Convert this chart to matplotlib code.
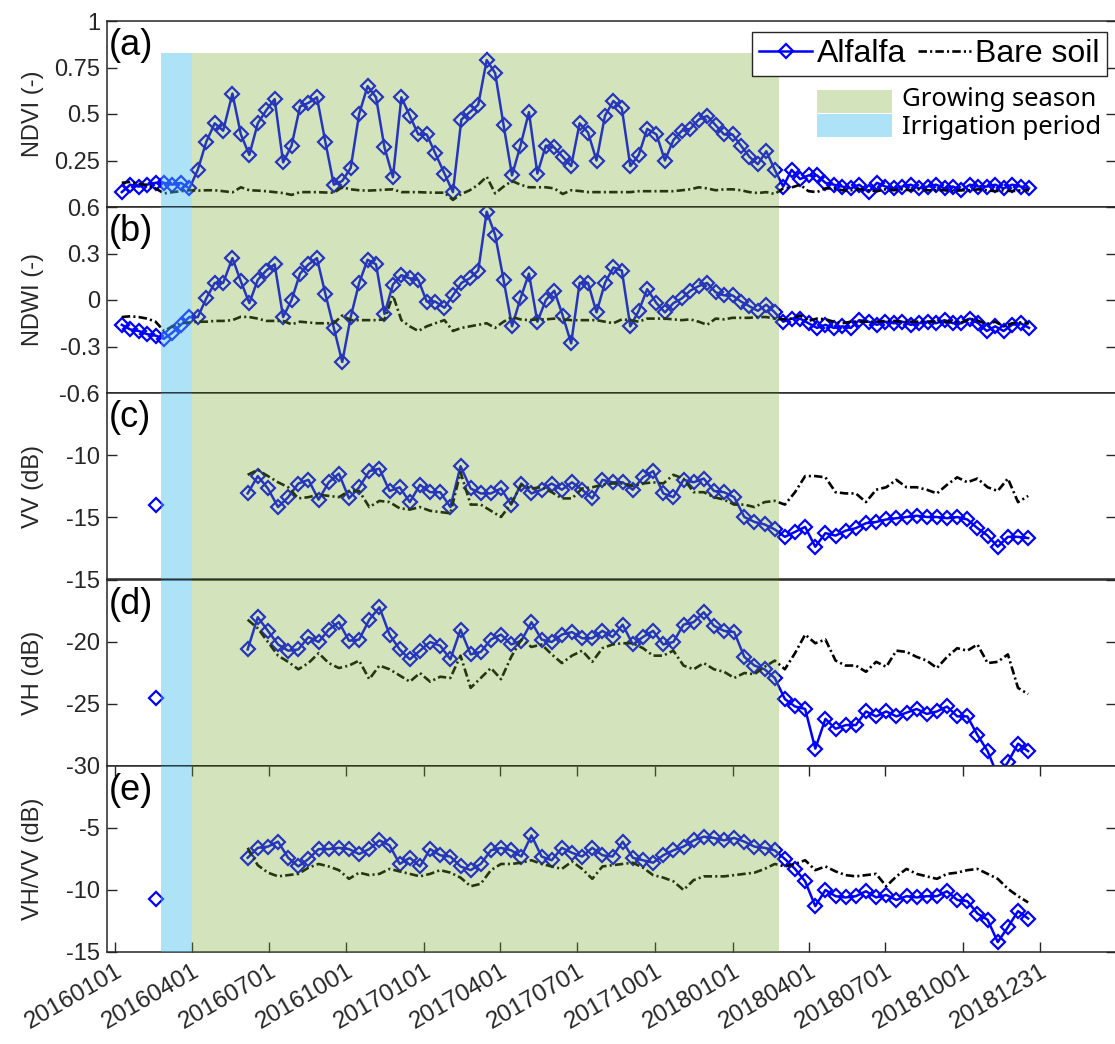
import datetime as dt
import matplotlib
matplotlib.use("Agg")
import matplotlib.pyplot as plt
from matplotlib.patches import Rectangle

plt.rcParams['font.family'] = ['Liberation Sans', 'DejaVu Sans']

T0 = dt.datetime(2016, 1, 1)

# optical (10-day) acquisitions, days after 2016-01-01
opt_day = [8, 18, 28, 38, 48, 58, 68, 78, 88, 98,
           108, 118, 128, 139, 149, 159, 169, 179, 189, 199,
           209, 219, 229, 239, 249, 259, 269, 279, 289, 299,
           309, 319, 329, 339, 349, 359, 369, 379, 390, 400,
           410, 420, 430, 440, 450, 460, 470, 480, 490, 500,
           510, 520, 530, 540, 550, 560, 570, 580, 590, 600,
           610, 620, 630, 641, 651, 661, 671, 681, 691, 701,
           711, 721, 731, 741, 751, 761, 771, 781, 791, 801,
           811, 821, 831, 841, 851, 861, 871, 881, 892, 902,
           912, 922, 932, 942, 952, 962, 972, 982, 992, 1002,
           1012, 1022, 1032, 1042, 1052, 1062, 1072, 1082]

ndvi_alfalfa = [0.08, 0.12, 0.11, 0.12, 0.13, 0.13, 0.12, 0.13, 0.10, 0.20,
                0.35, 0.45, 0.41, 0.61, 0.39, 0.28, 0.45, 0.52, 0.58, 0.24,
                0.33, 0.54, 0.56, 0.59, 0.35, 0.12, 0.14, 0.21, 0.50, 0.65,
                0.59, 0.32, 0.16, 0.59, 0.49, 0.39, 0.39, 0.29, 0.18, 0.08,
                0.47, 0.51, 0.55, 0.79, 0.72, 0.44, 0.17, 0.33, 0.51, 0.18,
                0.33, 0.32, 0.27, 0.22, 0.45, 0.40, 0.25, 0.49, 0.57, 0.53,
                0.22, 0.28, 0.42, 0.39, 0.25, 0.36, 0.41, 0.42, 0.47, 0.49,
                0.44, 0.39, 0.39, 0.33, 0.27, 0.23, 0.30, 0.20, 0.11, 0.20,
                0.15, 0.17, 0.17, 0.13, 0.12, 0.11, 0.10, 0.12, 0.08, 0.13,
                0.11, 0.10, 0.11, 0.12, 0.10, 0.11, 0.12, 0.10, 0.11, 0.09,
                0.12, 0.11, 0.11, 0.12, 0.10, 0.12, 0.11, 0.10]

ndvi_bare = [0.13, 0.135, 0.125, 0.118, 0.10, 0.073, 0.08, 0.085, 0.09, 0.088,
             0.09, 0.09, 0.085, 0.079, 0.106, 0.09, 0.088, 0.085, 0.08, 0.075,
             0.065, 0.08, 0.08, 0.08, 0.078, 0.077, 0.106, 0.095, 0.09, 0.088,
             0.09, 0.093, 0.095, 0.08, 0.08, 0.08, 0.078, 0.077, 0.077, 0.038,
             0.07, 0.09, 0.12, 0.163, 0.073, 0.11, 0.14, 0.12, 0.106, 0.106,
             0.106, 0.10, 0.07, 0.09, 0.086, 0.08, 0.08, 0.08, 0.08, 0.08,
             0.08, 0.085, 0.085, 0.085, 0.085, 0.085, 0.09, 0.095, 0.106, 0.10,
             0.09, 0.095, 0.095, 0.09, 0.08, 0.075, 0.08, 0.07, 0.10, 0.105,
             0.12, 0.085, 0.08, 0.10, 0.10, 0.09, 0.09, 0.095, 0.09, 0.085,
             0.095, 0.09, 0.095, 0.09, 0.095, 0.09, 0.09, 0.09, 0.085, 0.09,
             0.09, 0.095, 0.09, 0.085, 0.09, 0.085, 0.09, 0.09]

ndwi_alfalfa = [-0.16, -0.19, -0.20, -0.22, -0.23, -0.25, -0.21, -0.16, -0.11, -0.11,
                0.01, 0.11, 0.11, 0.27, 0.12, -0.02, 0.13, 0.19, 0.23, -0.11,
                0.00, 0.17, 0.23, 0.27, 0.04, -0.18, -0.40, -0.11, 0.11, 0.26,
                0.23, -0.09, 0.10, 0.16, 0.14, 0.13, -0.01, -0.01, -0.05, 0.03,
                0.11, 0.14, 0.19, 0.57, 0.42, 0.13, -0.17, 0.01, 0.17, -0.14,
                0.00, 0.06, -0.10, -0.28, 0.11, 0.11, -0.08, 0.11, 0.21, 0.19,
                -0.17, -0.07, 0.07, -0.02, -0.08, -0.02, 0.01, 0.06, 0.09, 0.11,
                0.05, 0.03, 0.03, -0.01, -0.04, -0.07, -0.03, -0.08, -0.14, -0.12,
                -0.12, -0.15, -0.18, -0.16, -0.18, -0.17, -0.18, -0.13, -0.14, -0.16,
                -0.14, -0.15, -0.14, -0.16, -0.15, -0.14, -0.15, -0.13, -0.15, -0.15,
                -0.12, -0.15, -0.20, -0.17, -0.20, -0.16, -0.15, -0.18]

ndwi_bare = [-0.11, -0.105, -0.11, -0.12, -0.14, -0.20, -0.17, -0.15, -0.145, -0.14,
             -0.14, -0.135, -0.135, -0.13, -0.108, -0.11, -0.12, -0.135, -0.135, -0.135,
             -0.157, -0.14, -0.145, -0.15, -0.15, -0.15, -0.10, -0.13, -0.13, -0.13,
             -0.13, -0.125, 0.03, -0.13, -0.17, -0.20, -0.17, -0.15, -0.13, -0.20,
             -0.18, -0.17, -0.16, -0.15, -0.18, -0.14, -0.11, -0.125, -0.13, -0.125,
             -0.125, -0.12, -0.125, -0.13, -0.13, -0.13, -0.13, -0.14, -0.15, -0.125,
             -0.13, -0.14, -0.12, -0.12, -0.12, -0.125, -0.13, -0.125, -0.14, -0.16,
             -0.12, -0.125, -0.115, -0.115, -0.115, -0.11, -0.11, -0.12, -0.125, -0.12,
             -0.10, -0.135, -0.12, -0.125, -0.14, -0.15, -0.14, -0.14, -0.14, -0.14,
             -0.135, -0.135, -0.14, -0.14, -0.14, -0.14, -0.14, -0.14, -0.14, -0.145,
             -0.12, -0.135, -0.155, -0.14, -0.17, -0.15, -0.145, -0.15]

# Sentinel-1 (12-day) acquisitions, days after 2016-01-01
sar_day = [157, 169, 181, 193, 205, 217, 229, 241, 253, 265,
           277, 289, 301, 313, 325, 337, 349, 361, 373, 385,
           397, 409, 421, 433, 445, 457, 469, 481, 493, 505,
           517, 529, 541, 553, 565, 577, 589, 601, 613, 625,
           637, 649, 661, 673, 685, 697, 709, 721, 733, 745,
           757, 769, 781, 793, 805, 817, 829, 841, 853, 865,
           877, 889, 901, 913, 925, 937, 949, 961, 973, 985,
           997, 1009, 1021, 1033, 1045, 1057, 1069, 1081]

# single early alfalfa scene (18 Feb 2016)
sar_day_early = 48
vv_alfalfa_early = -14.0
vh_alfalfa_early = -24.5
ratio_alfalfa_early = -10.7

vv_alfalfa = [-13.1, -11.7, -12.7, -14.2, -13.4, -12.3, -12.0, -13.6, -12.2, -11.5,
              -13.5, -12.6, -11.3, -11.1, -12.9, -12.6, -13.8, -12.4, -13.0, -13.0,
              -14.2, -10.9, -12.7, -13.1, -13.1, -12.7, -14.0, -12.3, -13.1, -12.8,
              -12.3, -12.8, -12.2, -12.8, -13.5, -12.0, -12.2, -12.2, -12.8, -11.8,
              -11.3, -13.1, -13.4, -12.0, -12.2, -11.9, -12.9, -13.0, -13.4, -15.0,
              -15.4, -15.6, -16.0, -16.6, -16.2, -15.8, -17.4, -16.3, -16.5, -16.1,
              -15.9, -15.5, -15.4, -15.2, -15.1, -15.0, -14.9, -15.0, -15.0, -15.1,
              -15.0, -15.2, -15.9, -16.5, -17.4, -16.6, -16.6, -16.7]

vv_bare = [-11.6, -11.2, -11.7, -12.2, -12.6, -13.5, -13.4, -13.2, -13.3, -13.4,
           -12.9, -12.9, -14.2, -13.7, -13.8, -14.3, -14.4, -14.2, -14.5, -14.6,
           -14.7, -11.4, -14.0, -14.0, -14.5, -15.0, -13.9, -12.4, -12.7, -12.6,
           -13.0, -13.5, -13.5, -12.7, -12.6, -12.4, -12.3, -12.3, -12.5, -12.3,
           -12.2, -12.3, -11.6, -11.9, -13.0, -13.0, -13.4, -13.6, -14.0, -14.0,
           -14.2, -13.8, -13.7, -14.0, -13.0, -11.7, -11.7, -11.8, -13.0, -13.1,
           -13.1, -13.8, -12.8, -12.6, -12.0, -12.6, -12.6, -12.8, -13.1, -12.4,
           -11.8, -12.2, -11.9, -12.6, -12.9, -11.9, -13.8, -13.3]

vh_alfalfa = [-20.6, -18.0, -19.1, -20.2, -20.7, -20.6, -19.6, -20.0, -19.0, -18.4,
              -19.9, -19.8, -18.2, -17.2, -19.4, -20.6, -21.4, -20.7, -20.0, -20.3,
              -21.4, -19.0, -21.0, -20.8, -19.8, -19.4, -20.2, -19.9, -18.4, -19.8,
              -20.0, -19.4, -19.2, -19.7, -19.7, -19.1, -19.6, -18.6, -20.2, -19.6,
              -19.1, -20.2, -20.0, -18.6, -18.4, -17.6, -18.7, -19.1, -19.2, -21.2,
              -21.9, -22.2, -22.9, -24.6, -25.2, -25.4, -28.6, -26.2, -27.0, -26.7,
              -26.7, -25.6, -26.0, -25.6, -26.0, -25.7, -25.4, -25.8, -25.6, -25.2,
              -26.0, -26.0, -27.5, -28.8, -30.8, -29.7, -28.2, -28.8]

vh_bare = [-18.2, -18.9, -20.0, -21.1, -21.6, -22.2, -21.7, -20.9, -21.7, -22.1,
           -21.9, -21.5, -23.0, -21.9, -22.2, -22.7, -23.2, -22.5, -23.2, -22.8,
           -22.9, -21.1, -23.7, -22.9, -22.1, -23.0, -21.2, -19.8, -20.4, -20.2,
           -21.0, -21.7, -21.1, -20.7, -21.6, -20.5, -20.2, -20.1, -20.1, -20.5,
           -21.1, -21.1, -20.7, -21.9, -22.2, -21.7, -22.2, -22.4, -22.9, -22.5,
           -22.6, -22.0, -21.5, -22.2, -20.9, -19.4, -20.1, -19.8, -21.5, -21.9,
           -21.9, -22.4, -21.6, -22.0, -20.7, -20.8, -21.2, -21.5, -22.1, -21.2,
           -20.5, -20.7, -20.2, -21.7, -21.6, -21.0, -23.7, -24.2]

ratio_alfalfa = [-7.4, -6.6, -6.5, -6.1, -7.4, -8.1, -7.5, -6.7, -6.7, -6.6,
                 -6.7, -7.1, -6.7, -6.0, -6.4, -7.9, -7.4, -8.1, -6.7, -7.2,
                 -7.3, -8.1, -8.4, -7.9, -6.8, -6.6, -6.8, -7.3, -5.6, -7.3,
                 -7.6, -6.6, -7.0, -7.3, -6.6, -7.2, -7.3, -6.1, -7.4, -7.6,
                 -7.8, -7.2, -6.8, -6.5, -6.0, -5.7, -5.8, -6.0, -5.8, -6.1,
                 -6.5, -6.6, -6.8, -7.5, -8.3, -9.3, -11.3, -10.0, -10.5, -10.6,
                 -10.5, -10.1, -10.6, -10.4, -10.8, -10.5, -10.6, -10.5, -10.5, -10.1,
                 -10.8, -10.9, -11.9, -12.4, -14.2, -13.0, -11.7, -12.3]

ratio_bare = [-6.6, -8.0, -8.6, -8.9, -8.8, -8.7, -8.2, -7.9, -8.1, -8.4,
              -9.1, -8.6, -8.8, -8.7, -8.3, -8.5, -8.7, -8.9, -8.7, -8.4,
              -8.6, -9.0, -9.7, -9.5, -8.4, -7.9, -7.9, -7.8, -7.6, -7.9,
              -8.1, -8.3, -7.7, -8.3, -9.1, -8.1, -8.0, -7.9, -7.8, -8.2,
              -8.8, -9.0, -9.3, -10.0, -9.2, -8.9, -8.9, -8.9, -8.8, -8.7,
              -8.6, -8.3, -7.9, -8.1, -7.9, -7.6, -8.4, -8.1, -8.5, -8.8,
              -8.9, -8.8, -8.7, -9.7, -8.9, -8.3, -8.7, -8.9, -9.1, -8.7,
              -8.6, -8.4, -8.3, -8.7, -9.1, -9.9, -10.5, -11.0]

irrigation = (dt.datetime(2016, 2, 25), dt.datetime(2016, 4, 1))
growing = (dt.datetime(2016, 4, 1), dt.datetime(2018, 2, 25))

tick_dates = [dt.datetime(2016, 1, 1), dt.datetime(2016, 4, 1), dt.datetime(2016, 7, 1),
              dt.datetime(2016, 10, 1), dt.datetime(2017, 1, 1), dt.datetime(2017, 4, 1),
              dt.datetime(2017, 7, 1), dt.datetime(2017, 10, 1), dt.datetime(2018, 1, 1),
              dt.datetime(2018, 4, 1), dt.datetime(2018, 7, 1), dt.datetime(2018, 10, 1),
              dt.datetime(2018, 12, 31)]

ylabels = ['NDVI (-)', 'NDWI (-)', 'VV (dB)', 'VH (dB)', 'VH/VV (dB)']
tags = ['(a)', '(b)', '(c)', '(d)', '(e)']
ylims = [(0, 1), (-0.6, 0.6), (-20, -5), (-30, -15), (-15, 0)]
yticks = [[0.25, 0.5, 0.75, 1], [-0.6, -0.3, 0, 0.3, 0.6], [-15, -10],
          [-30, -25, -20, -15], [-15, -10, -5]]
yticklabels = [['0.25', '0.5', '0.75', '1'], ['-0.6', '-0.3', '0', '0.3', '0.6'],
               ['-15', '-10'], ['-30', '-25', '-20', '-15'], ['-15', '-10', '-5']]


def to_dates(days):
    return [T0 + dt.timedelta(days=d) for d in days]


opt_dates = to_dates(opt_day)
sar_dates = to_dates(sar_day)
early_date = T0 + dt.timedelta(days=sar_day_early)

series = [
    (opt_dates, ndvi_alfalfa, ndvi_bare, None),
    (opt_dates, ndwi_alfalfa, ndwi_bare, None),
    (sar_dates, vv_alfalfa, vv_bare, vv_alfalfa_early),
    (sar_dates, vh_alfalfa, vh_bare, vh_alfalfa_early),
    (sar_dates, ratio_alfalfa, ratio_bare, ratio_alfalfa_early),
]

W, H = 1115, 1044
LEFT, RIGHT = 107, 1116
panel_top = [21, 207, 393, 580, 766]
panel_h = 186

BLUE = '#0000ff'
AXC = '#262626'
GREEN = (0.47, 0.67, 0.19)
SKY = (0.30, 0.75, 0.93)

fig = plt.figure(figsize=(W / 100, H / 100), dpi=100)
fig.patch.set_facecolor('white')

xmin = T0 - dt.timedelta(days=9.5)
xmax = T0 + dt.timedelta(days=1185)

axes = []
for i, top in enumerate(panel_top):
    ax = fig.add_axes([LEFT / W, 1 - (top + panel_h) / H, (RIGHT - LEFT) / W, panel_h / H])
    dates, alf, bare, early = series[i]

    alf_line, = ax.plot(dates, alf, color=BLUE, lw=1.8, marker='D', ms=7,
                        mfc='none', mec=BLUE, mew=1.6, zorder=2)
    bare_line, = ax.plot(dates, bare, color='black', lw=1.9, zorder=2.1)
    bare_line.set_dashes((3.2, 1.2, 0.8, 1.2))
    if early is not None:
        ax.plot([early_date], [early], linestyle='none', marker='D', ms=7,
                mfc='none', mec=BLUE, mew=1.6, zorder=2)

    # shaded periods sit on top of the curves, like a translucent patch
    shade_top = 0.83 if i == 0 else 1.0
    ax.axvspan(*irrigation, ymax=shade_top, color=SKY, alpha=0.45, lw=0, zorder=3)
    ax.axvspan(*growing, ymax=shade_top, color=GREEN, alpha=0.32, lw=0, zorder=3)

    ax.set_xlim(xmin, xmax)
    ax.set_ylim(*ylims[i])
    ax.set_yticks(yticks[i])
    ax.set_yticklabels(yticklabels[i])
    ax.tick_params(axis='y', direction='in', length=7, width=1, colors=AXC,
                   labelsize=17, left=True, right=True, pad=5)
    for s in ax.spines.values():
        s.set_color(AXC)
        s.set_linewidth(1.1)

    ax.set_ylabel(ylabels[i], fontsize=17, color=AXC)
    ax.yaxis.set_label_coords(-0.062, 0.5)
    ax.text(0.002, 0.965, tags[i], transform=ax.transAxes, fontsize=26,
            ha='left', va='top', zorder=6)

    if i < 4:
        ax.tick_params(axis='x', bottom=False, top=False, labelbottom=False)
    else:
        ax.set_xticks(tick_dates)
        ax.set_xticklabels([d.strftime('%Y%m%d') for d in tick_dates],
                           rotation=30, ha='right', va='top', rotation_mode='anchor')
        ax.tick_params(axis='x', direction='in', length=7, width=1, colors=AXC,
                       labelsize=17.5, top=True, bottom=True, pad=6)
    axes.append(ax)
    if i == 0:
        h_alf, h_bare = alf_line, bare_line

# line legend
leg = axes[0].legend([h_alf, h_bare], ['Alfalfa', 'Bare soil'], ncol=2,
                     loc='upper right', bbox_to_anchor=(0.991, 0.941),
                     fontsize=23, frameon=True, fancybox=False, framealpha=1,
                     edgecolor=AXC, borderpad=0.22, handlelength=1.65,
                     handletextpad=0.15, columnspacing=0.37, borderaxespad=0,
                     numpoints=1)
leg.get_frame().set_linewidth(1.0)
leg.set_zorder(7)


# key for the shaded periods
def fx(x):
    return x / W


def fy(y):
    return 1 - y / H


for (y0, y1), yt, col, alpha, label in [((90, 113), 100, GREEN, 0.32, 'Growing season'),
                                        ((114, 137), 127, SKY, 0.45, 'Irrigation period')]:
    fig.add_artist(Rectangle((fx(817), fy(y1)), fx(892) - fx(817), fy(y0) - fy(y1),
                             transform=fig.transFigure, facecolor=col, alpha=alpha,
                             lw=0, zorder=8))
    fig.text(fx(902), fy(yt), label, fontsize=18.5, family='Noto Sans',
             ha='left', va='center', zorder=9)

fig.savefig('out.png', dpi=100, facecolor='white')
